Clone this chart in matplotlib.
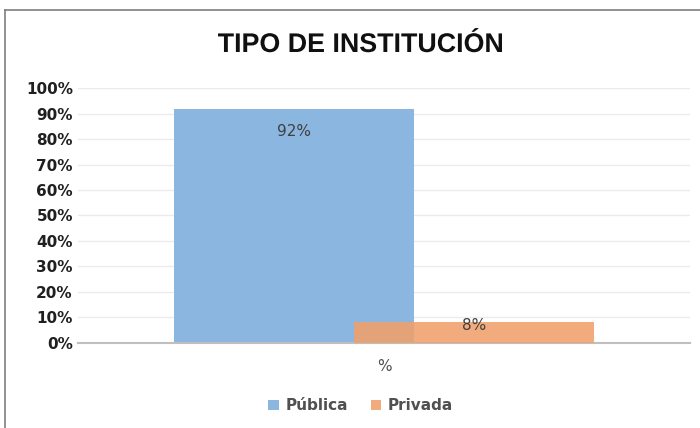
import matplotlib.pyplot as plt
from matplotlib.lines import Line2D
from matplotlib.textpath import TextPath
from matplotlib.patches import PathPatch
from matplotlib.font_manager import FontProperties
import matplotlib.transforms as mtransforms
import numpy as np

# === DADOS ===
categorias = ['%']
series = ['Pública', 'Privada']
valores = [92, 8]
cores = ['#8AB6E0', '#F0A06A']
rotulos = ['92%', '8%']
titulo = 'TIPO DE INSTITUCIÓN'

fig = plt.figure(figsize=(7, 4.28), dpi=100)
ax = fig.add_axes([0.111, 0.199, 0.875, 0.595])

largura = 0.392
deslocamentos = [-0.147, 0.147]
x = np.arange(len(categorias))
ajuste_rotulo = [-9, -1]

for i, serie in enumerate(series):
    alpha = 1.0 if i == 0 else 0.88
    ax.bar(x + deslocamentos[i], [valores[i]], width=largura, color=cores[i],
           alpha=alpha, label=serie, zorder=2 + i)
    ax.text(x[0] + deslocamentos[i], valores[i] + ajuste_rotulo[i], rotulos[i], ha='center', va='center',
            fontsize=11, color='#404040', zorder=5)

ax.set_xlim(-0.5, 0.5)
ax.set_ylim(0, 100)
ax.set_yticks(range(0, 101, 10))
ax.set_yticklabels([f'{v}%' for v in range(0, 101, 10)], fontweight='bold', fontsize=11, color='#202020')
ax.set_xticks(x)
ax.set_xticklabels(categorias, fontsize=11, color='#505050')
ax.tick_params(axis='both', length=0)
ax.tick_params(axis='x', pad=12)
ax.grid(axis='y', color='#EBEBEB', linewidth=1, zorder=0)
ax.set_axisbelow(True)
for lado in ['top', 'right', 'left']:
    ax.spines[lado].set_visible(False)
ax.spines['bottom'].set_color('#BFBFBF')
ax.spines['bottom'].set_linewidth(1.5)

# título comprimido na horizontal (fonte estreita não instalada)
tp = TextPath((0, 0), titulo, size=27, prop=FontProperties(family='Liberation Sans', weight='bold'))
bb = tp.get_extents()
sx = 284 / bb.width
tr = (mtransforms.Affine2D().translate(-(bb.x0 + bb.width / 2), 0)
      .scale(sx, 1.0).translate(360, 428 - 52))
fig.add_artist(PathPatch(tp, transform=tr, color='#101010', lw=0))

leg = fig.legend(loc='center', bbox_to_anchor=(0.515, 0.052), ncol=2, frameon=False,
                 handlelength=0.7, handleheight=0.7, handletextpad=0.4, columnspacing=1.5,
                 prop={'weight': 'bold', 'size': 11})
for t in leg.get_texts():
    t.set_color('#505050')

# moldura
fig.add_artist(Line2D([5/700, 5/700], [0, 1 - 10/428], color='#7F7F7F', linewidth=1.2))
fig.add_artist(Line2D([5/700, 1], [1 - 10/428, 1 - 10/428], color='#7F7F7F', linewidth=1.2))

plt.savefig('out.png', dpi=100)
